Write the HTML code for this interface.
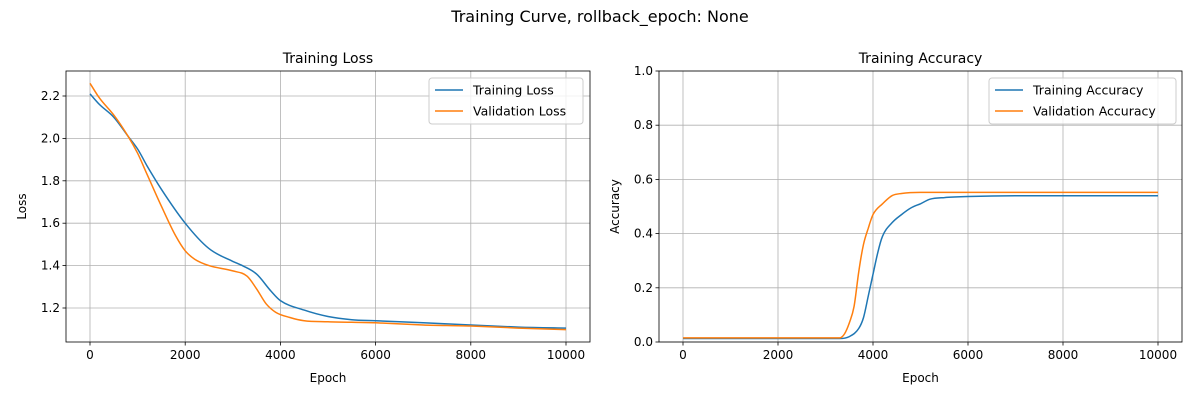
<!DOCTYPE html>
<html><head><meta charset="utf-8"><style>
body{margin:0;background:#fff;font-family:"Liberation Sans","DejaVu Sans",sans-serif;}
svg text{font-family:"DejaVu Sans","Liberation Sans",sans-serif;}
</style></head><body>
<svg id="fig" width="1200" height="400" xmlns="http://www.w3.org/2000/svg">
<rect width="1200" height="400" fill="#fff"/>
<text x="600" y="22" text-anchor="middle" font-size="16">Training Curve, rollback_epoch: None</text>
</svg>
<script>
const epochsTL=[0,200,500,800,1000,1200,1500,2000,2500,3000,3200,3500,3800,4000,4500,5000,5500,6000,7000,8000,9000,10000];
const trainLoss=[2.21,2.16,2.10,2.01,1.95,1.87,1.76,1.60,1.48,1.42,1.40,1.36,1.28,1.235,1.19,1.16,1.145,1.14,1.13,1.12,1.11,1.105];
const epochsVL=[0,200,500,800,1000,1200,1500,1800,2000,2200,2500,3000,3300,3500,3700,3900,4200,4500,5000,6000,7000,8000,9000,10000];
const valLoss=[2.26,2.19,2.11,2.01,1.93,1.83,1.68,1.54,1.47,1.43,1.40,1.375,1.35,1.29,1.22,1.18,1.155,1.14,1.135,1.13,1.12,1.115,1.105,1.098];
const epochsTA=[0,3300,3500,3700,3800,3900,4000,4100,4200,4400,4600,4800,5000,5200,5500,6000,7000,10000];
const trainAcc=[0.013,0.013,0.02,0.05,0.09,0.17,0.25,0.33,0.39,0.44,0.47,0.495,0.51,0.527,0.533,0.537,0.54,0.54];
const epochsVA=[0,3300,3400,3500,3600,3700,3800,3900,4000,4200,4400,4600,5000,10000];
const valAcc=[0.015,0.015,0.03,0.07,0.13,0.26,0.36,0.42,0.47,0.51,0.54,0.548,0.552,0.552];
const xTicks=[0,2000,4000,6000,8000,10000];
const lossTicks=[1.2,1.4,1.6,1.8,2.0,2.2];
const accTicks=[0,0.2,0.4,0.6,0.8,1.0];
const NS="http://www.w3.org/2000/svg";
const svg=document.getElementById('fig');
function mk(tag,attrs,parent){const e=document.createElementNS(NS,tag);for(const k in attrs)e.setAttribute(k,attrs[k]);(parent||svg).appendChild(e);return e;}
function monoPath(px,py){
  const n=px.length,d=[],m=[];
  for(let i=0;i<n-1;i++)d.push((py[i+1]-py[i])/(px[i+1]-px[i]));
  m[0]=d[0];m[n-1]=d[n-2];
  for(let i=1;i<n-1;i++){m[i]=(d[i-1]*d[i]<=0)?0:(d[i-1]+d[i])/2;}
  for(let i=0;i<n-1;i++){if(d[i]===0){m[i]=0;m[i+1]=0;continue;}
    const a=m[i]/d[i],b=m[i+1]/d[i],s=a*a+b*b;if(s>9){const t=3/Math.sqrt(s);m[i]=t*a*d[i];m[i+1]=t*b*d[i];}}
  let s='M'+px[0].toFixed(1)+','+py[0].toFixed(1);
  for(let i=0;i<n-1;i++){const h=(px[i+1]-px[i])/3;
    s+='C'+(px[i]+h).toFixed(1)+','+(py[i]+m[i]*h).toFixed(1)+' '+(px[i+1]-h).toFixed(1)+','+(py[i+1]-m[i+1]*h).toFixed(1)+' '+px[i+1].toFixed(1)+','+py[i+1].toFixed(1);}
  return s;
}
function panel(p){
  const g=mk('g',{});
  
  
  const X=v=>p.x0+(v-0)/10000*(p.x10k-p.x0);
  const Y=v=>p.yA+(v-p.vA)/(p.vB-p.vA)*(p.yB-p.yA);
  xTicks.forEach(t=>{
    const l=mk('line',{x1:X(t),x2:X(t),y1:p.top,y2:p.bot,stroke:'#b0b0b0','stroke-width':0.8},g);
    
    mk('line',{x1:X(t),x2:X(t),y1:p.bot,y2:p.bot+3.5,stroke:'#000','stroke-width':0.8},g);
    const tx=mk('text',{x:X(t),y:p.bot+17,'text-anchor':'middle','font-size':12},g);tx.textContent=t;
    
  });
  p.yt.forEach(t=>{
    const l=mk('line',{x1:p.left,x2:p.right,y1:Y(t),y2:Y(t),stroke:'#b0b0b0','stroke-width':0.8},g);
    
    mk('line',{x1:p.left-3.5,x2:p.left,y1:Y(t),y2:Y(t),stroke:'#000','stroke-width':0.8},g);
    const tx=mk('text',{x:p.left-6,y:Y(t)+4,'text-anchor':'end','font-size':12},g);tx.textContent=t.toFixed(1);
    
  });
  p.series.forEach(s=>{
    const d=monoPath(s.x.map(X),s.y.map(Y));
    const pa=mk('path',{d:d,fill:'none',stroke:s.c,'stroke-width':1.5,'stroke-linejoin':'round'},g);
    
  });
  const fr=mk('rect',{x:p.left,y:p.top,width:p.right-p.left,height:p.bot-p.top,fill:'none',stroke:'#000','stroke-width':0.8},g);
  
  const ti=mk('text',{x:(p.left+p.right)/2,y:p.top-8,'text-anchor':'middle','font-size':14},g);ti.textContent=p.title;
  
  const xl=mk('text',{x:(p.left+p.right)/2,y:382,'text-anchor':'middle','font-size':12},g);xl.textContent='Epoch';
  
  const cy=(p.top+p.bot)/2;
  const yl=mk('text',{x:p.ylx,y:cy,'text-anchor':'middle','font-size':12,transform:`rotate(-90 ${p.ylx} ${cy})`},g);yl.textContent=p.ylabel;
  
  const lg=mk('g',{},g);
  mk('rect',{x:p.lx,y:78,width:p.lw,height:46,rx:3,fill:'#fff','fill-opacity':0.8,stroke:'#ccc'},lg);
  p.series.forEach((s,i)=>{
    const yy=90+i*21;
    mk('line',{x1:p.lx+6,x2:p.lx+34,y1:yy,y2:yy,stroke:s.c,'stroke-width':1.5},lg);
    const t=mk('text',{x:p.lx+44,y:yy+4.5,'font-size':12.5},lg);t.textContent=s.label;
    
  });
}
panel({name:'loss-panel',title:'Training Loss',ylabel:'Loss',ylx:26,left:66,right:590,top:71,bot:342,x0:90,x10k:566,vA:2.2,yA:96,vB:1.2,yB:308,yt:lossTicks,lx:429,lw:154,
 series:[{x:epochsTL,y:trainLoss,c:'#1f77b4',n:'training-loss-line',label:'Training Loss'},{x:epochsVL,y:valLoss,c:'#ff7f0e',n:'validation-loss-line',label:'Validation Loss'}]});
panel({name:'accuracy-panel',title:'Training Accuracy',ylabel:'Accuracy',ylx:619,left:659,right:1182,top:71,bot:342,x0:683,x10k:1158,vA:0,yA:342,vB:1,yB:71,yt:accTicks,lx:989,lw:187,
 series:[{x:epochsTA,y:trainAcc,c:'#1f77b4',n:'training-accuracy-line',label:'Training Accuracy'},{x:epochsVA,y:valAcc,c:'#ff7f0e',n:'validation-accuracy-line',label:'Validation Accuracy'}]});
</script>
</body></html>
